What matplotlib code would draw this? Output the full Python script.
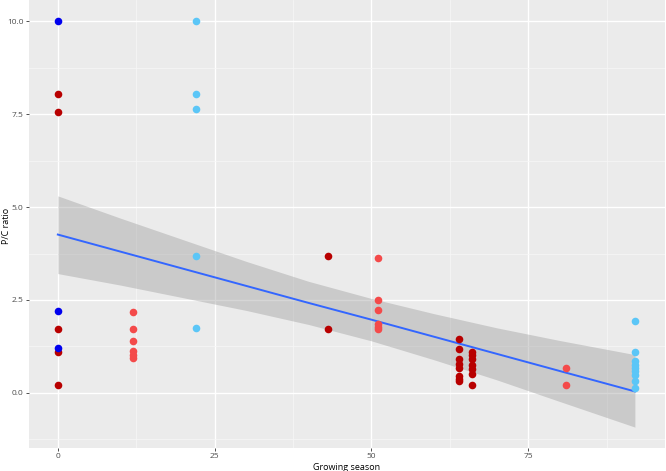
import numpy as np
import matplotlib
matplotlib.use("Agg")
import matplotlib.pyplot as plt
from matplotlib.ticker import MultipleLocator

plt.rcParams['font.family'] = ['Open Sans', 'DejaVu Sans']

# x = growing season, y = P/C ratio, grouped by colour
darkred_x = [0, 0, 0, 0, 0, 43, 43,
             64, 64, 64, 64, 64, 64, 64, 64,
             66, 66, 66, 66, 66, 66, 66]
darkred_y = [8.03, 7.57, 1.73, 1.09, 0.22, 3.69, 1.73,
             1.45, 1.19, 0.91, 0.79, 0.67, 0.46, 0.38, 0.31,
             1.10, 1.01, 0.92, 0.74, 0.63, 0.51, 0.22]
lightred_x = [12, 12, 12, 12, 12, 12,
              51, 51, 51, 51, 51, 51, 81, 81]
lightred_y = [2.19, 1.73, 1.39, 1.12, 1.03, 0.94,
              3.62, 2.51, 2.22, 1.85, 1.77, 1.72, 0.67, 0.22]
lightblue_x = [22, 22, 22, 22, 22,
               92, 92, 92, 92, 92, 92, 92, 92, 92]
lightblue_y = [10.0, 8.03, 7.63, 3.69, 1.75,
               1.93, 1.09, 0.85, 0.76, 0.67, 0.58, 0.49, 0.33, 0.13]
blue_x = [0, 0, 0]
blue_y = [10.0, 2.20, 1.20]

# linear trend and its confidence band
band_x = [0, 10, 20, 30, 40, 50, 60, 70, 80, 92]
fit_y = [4.26, 3.80, 3.34, 2.88, 2.42, 1.97, 1.51, 1.05, 0.59, 0.04]
band_hi = [5.30, 4.70, 4.12, 3.54, 3.00, 2.54, 2.13, 1.75, 1.41, 1.03]
band_lo = [3.21, 2.90, 2.56, 2.22, 1.84, 1.40, 0.89, 0.35, -0.23, -0.92]

fig = plt.figure(figsize=(6.66, 4.71), dpi=100)
ax = fig.add_axes([0.0435, 0.049, 0.955, 0.951])
ax.set_facecolor('#EBEBEB')
for sp in ax.spines.values():
    sp.set_visible(False)

ax.xaxis.set_major_locator(MultipleLocator(25))
ax.xaxis.set_minor_locator(MultipleLocator(12.5))
ax.yaxis.set_major_locator(MultipleLocator(2.5))
ax.yaxis.set_minor_locator(MultipleLocator(1.25))
ax.grid(which='major', color='white', linewidth=1.0)
ax.grid(which='minor', color='#F7F7F7', linewidth=0.5)
ax.set_axisbelow(True)

ax.fill_between(band_x, band_lo, band_hi, color='#999999', alpha=0.4, linewidth=0, zorder=2)
ax.plot(band_x, fit_y, color='#3366FF', linewidth=1.4, zorder=3)

ms = 30
ax.scatter(darkred_x, darkred_y, s=ms, color='#B80000', linewidths=0, zorder=4)
ax.scatter(lightred_x, lightred_y, s=ms, color='#F44A4A', linewidths=0, zorder=4)
ax.scatter(lightblue_x, lightblue_y, s=ms, color='#5BC6F7', linewidths=0, zorder=4)
ax.scatter(blue_x, blue_y, s=ms, color='#0000EE', linewidths=0, zorder=4)

ax.set_xlim(-4.6, 96.8)
ax.set_ylim(-1.48, 10.57)
ax.set_yticks([0, 2.5, 5, 7.5, 10])
ax.set_yticklabels(['0.0', '2.5', '5.0', '7.5', '10.0'])
ax.set_xticks([0, 25, 50, 75])
ax.tick_params(which='major', length=2.5, width=0.6, color='#333333',
               labelsize=6, labelcolor='#4D4D4D', pad=1.5)
ax.tick_params(which='minor', length=0)
ax.set_xlabel('Growing season', fontsize=6.5, labelpad=1.5)
fig.text(6.5 / 666, 0.52, 'P/C ratio', fontsize=6.5, rotation=90,
         ha='center', va='center')

fig.savefig('out.png', dpi=100)
